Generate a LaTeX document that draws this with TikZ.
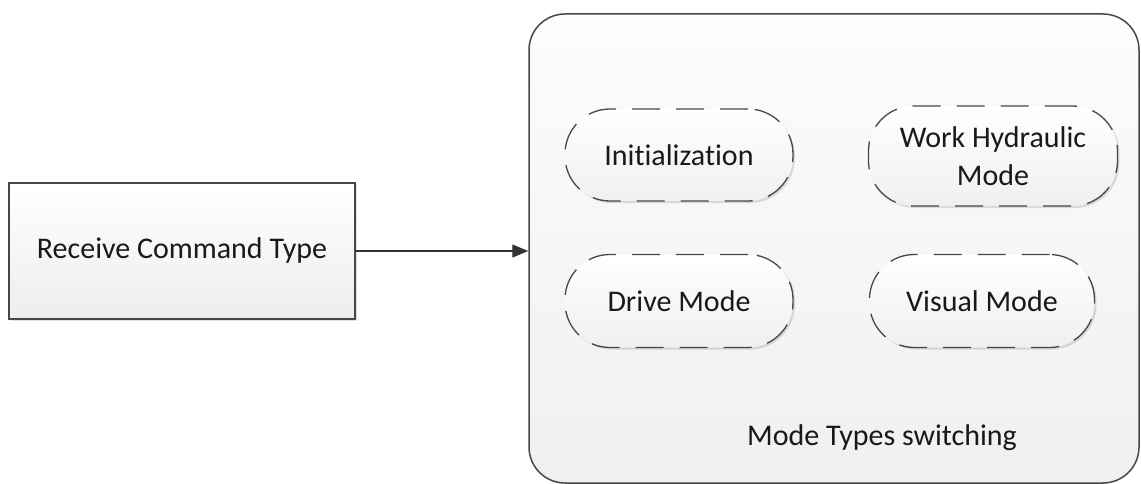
\documentclass[tikz,border=0pt]{standalone}
\usepackage{fontspec}
\setmainfont[Ligatures=NoCommon]{Carlito}
\usetikzlibrary{arrows.meta,shadows}
\begin{document}
\begin{tikzpicture}[x=1pt,y=-1pt,
  every node/.style={font=\fontsize{30}{38}\selectfont, text=black!90},
  outline/.style={draw=black!72, line width=1.5pt},
  softshadow/.style={drop shadow={shadow xshift=2pt, shadow yshift=-2pt, fill=black, opacity=0.12}},
  cmdbox/.style={outline, rectangle, softshadow, top color=white, bottom color=black!7,
    minimum width=346pt, minimum height=136pt, inner sep=0pt},
  groupbox/.style={outline, rectangle, rounded corners=36pt, top color=white!99!black,
    bottom color=black!6, minimum width=610pt, minimum height=469pt, inner sep=0pt},
  modenode/.style={draw=black!72, line width=1.3pt, dash pattern=on 28pt off 16pt,
    rectangle, rounded corners=45pt, softshadow, top color=white, bottom color=black!6,
    inner sep=0pt, align=center},
  link/.style={draw=black!80, line width=1.3pt, -{Triangle[length=16pt,width=13pt]}}
]
  \useasboundingbox (0,0) rectangle (1141,484);

  % input block and the grouping frame
  \node[cmdbox] (cmd) at (182,251) {Receive Command Type};
  \node[groupbox] (modes) at (834,248.5) {};

  % the four operating modes
  \node[modenode, minimum width=228pt, minimum height=92pt] (init) at (679,155) {Initialization};
  \node[modenode, minimum width=249pt, minimum height=100pt] (work) at (993,156) {Work Hydraulic\\Mode};
  \node[modenode, minimum width=228pt, minimum height=93pt] (drive) at (679,301) {Drive Mode};
  \node[modenode, minimum width=225pt, minimum height=93pt] (visual) at (982,301) {Visual Mode};

  % frame caption
  \node (caption) at (882,438) {Mode Types switching};

  % command flow into the mode switcher
  \draw[link] (cmd.east) -- (cmd.east -| modes.west);
\end{tikzpicture}
\end{document}
